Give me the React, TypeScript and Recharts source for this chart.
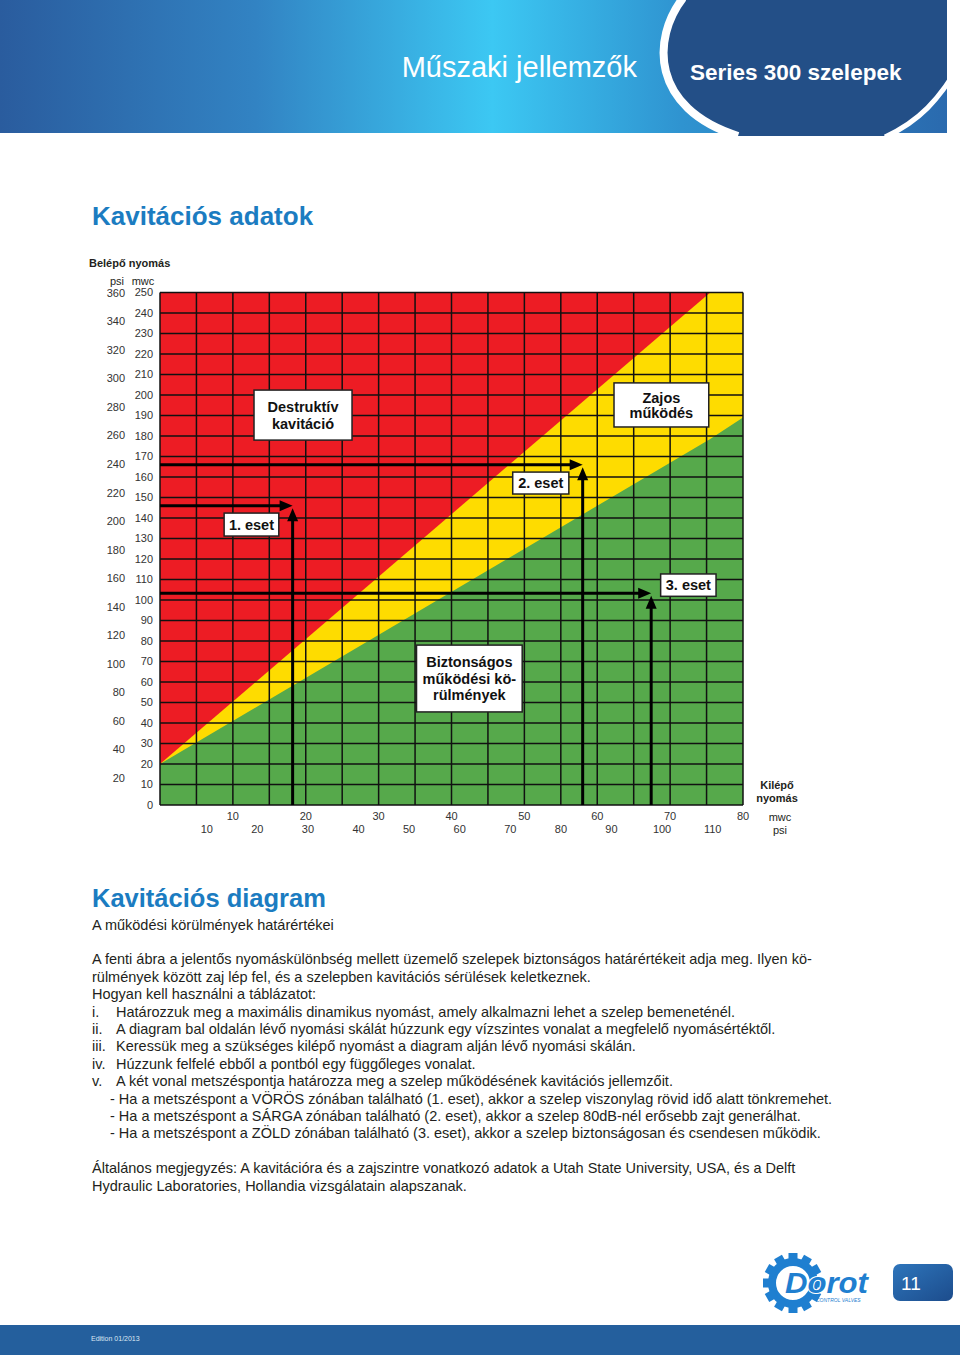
import React from "react";
import {
  ComposedChart,
  Area,
  XAxis,
  YAxis,
  CartesianGrid,
  ReferenceArea,
  ReferenceLine,
} from "recharts";

// zone boundaries (outlet mwc -> inlet mwc)
const zoneX = [0, 75.5, 80];
const redTop = [250, 250, 250];
const yellowTop = [20, 250, 250];
const greenTop = [20, 178.5, 189];

const mwcXTicks = [0, 5, 10, 15, 20, 25, 30, 35, 40, 45, 50, 55, 60, 65, 70, 75, 80];
const mwcYTicks = [
  0, 10, 20, 30, 40, 50, 60, 70, 80, 90, 100, 110, 120, 130, 140, 150, 160, 170, 180,
  190, 200, 210, 220, 230, 240, 250,
];
const psiXTicks = [10, 20, 30, 40, 50, 60, 70, 80, 90, 100, 110];
const psiYTicks = [20, 40, 60, 80, 100, 120, 140, 160, 180, 200, 220, 240, 260, 280, 300, 320, 340, 360];

// example cases: outlet / inlet pressure in mwc
const caseOutlet = [18.2, 58.0, 67.4];
const caseInlet = [146, 166, 103.3];

const zoneRows = zoneX.map((x, i) => ({
  x,
  red: redTop[i],
  yellow: yellowTop[i],
  green: greenTop[i],
}));

const noteBoxes = [
  { lines: ["Destruktív", "kavitáció"], x1: 12.9, x2: 26.35, y1: 178, y2: 202.4, gap: 17 },
  { lines: ["Zajos", "működés"], x1: 62.3, x2: 75.3, y1: 184.4, y2: 205.9, gap: 15 },
  { lines: ["Biztonságos", "működési kö-", "rülmények"], x1: 35.2, x2: 49.7, y1: 45.4, y2: 78, gap: 16.5 },
  { lines: ["1. eset"], x1: 8.8, x2: 16.3, y1: 131.2, y2: 142.4, gap: 0 },
  { lines: ["2. eset"], x1: 48.4, x2: 56.1, y1: 151.7, y2: 162.4, gap: 0 },
  { lines: ["3. eset"], x1: 68.7, x2: 76.3, y1: 101.8, y2: 112.7, gap: 0 },
];

const FONT = '"Liberation Sans", Arial, Helvetica, sans-serif';
const BLUE = "#1b7cc1";
const TXT = "#231f20";

const hArrow = (p: any) => {
  const { x1, y1, x2, y2 } = p;
  const head = 13;
  return (
    <g>
      <line x1={x1} y1={y1} x2={x2 - head + 1} y2={y2} stroke="#000" strokeWidth={3} />
      <polygon points={`${x2},${y2} ${x2 - head},${y2 - 5.5} ${x2 - head},${y2 + 5.5}`} fill="#000" />
    </g>
  );
};

const vArrow = (p: any) => {
  const { x1, y1, x2, y2 } = p;
  const head = 13;
  const tip = y2 + 2.5;
  return (
    <g>
      <line x1={x1} y1={y1} x2={x2} y2={tip + head - 1} stroke="#000" strokeWidth={3} />
      <polygon points={`${x2},${tip} ${x2 - 5.5},${tip + head} ${x2 + 5.5},${tip + head}`} fill="#000" />
    </g>
  );
};

const boxShape = (lines: string[], gap: number) => (p: any) => {
  const { x, y, width, height } = p;
  const cx = x + width / 2;
  const cy = y + height / 2;
  const start = cy - ((lines.length - 1) * gap) / 2;
  return (
    <g>
      <rect x={x} y={y} width={width} height={height} fill="#fff" stroke="#222" strokeWidth={1.5} />
      {lines.map((l, i) => (
        <text
          key={i}
          x={cx}
          y={start + i * gap}
          dy="0.36em"
          textAnchor="middle"
          fontSize={14.5}
          fontWeight="bold"
          fill="#111"
          fontFamily={FONT}
        >
          {l}
        </text>
      ))}
    </g>
  );
};

function Header() {
  return (
    <svg width={960} height={140} style={{ position: "absolute", left: 0, top: 0 }}>
      <defs>
        <linearGradient id="hdrGrad" x1="0" y1="0" x2="1" y2="0">
          <stop offset="0" stopColor="#2a5c9e" />
          <stop offset="0.27" stopColor="#3283c3" />
          <stop offset="0.52" stopColor="#3cc8f3" />
          <stop offset="0.72" stopColor="#2f93d0" />
          <stop offset="1" stopColor="#2a6aae" />
        </linearGradient>
      </defs>
      <rect x={0} y={0} width={947} height={133} fill="url(#hdrGrad)" />
      <path d="M 683 0 C 652 38, 650 108, 738 136 L 885 136 C 918 122, 940 100, 947 82 L 947 0 Z" fill="#234f87" />
      <path d="M 683 -2 C 652 38, 650 108, 738 136" stroke="#fff" strokeWidth={8} fill="none" />
      <path d="M 885 137 C 918 122, 940 100, 962 60" stroke="#fff" strokeWidth={5} fill="none" />
      <rect x={947} y={0} width={13} height={140} fill="#fff" />
      <text x={637} y={77} textAnchor="end" fill="#fff" fontSize={29} fontFamily={FONT}>
        Műszaki jellemzők
      </text>
      <text x={690} y={80} fill="#fff" fontSize={22.5} fontWeight="bold" fontFamily={FONT}>
        Series 300 szelepek
      </text>
    </svg>
  );
}

function Logo() {
  const teeth = Array.from({ length: 12 }, (_, i) => i * 30);
  return (
    <svg width={130} height={70} style={{ position: "absolute", left: 762, top: 1250 }}>
      <g transform="translate(31,33)">
        <circle r={21} fill="none" stroke="#1f7fd0" strokeWidth={8} />
        {teeth.map((a) => (
          <rect key={a} x={-4.5} y={-30} width={9} height={10} fill="#1f7fd0" transform={`rotate(${a})`} />
        ))}
      </g>
      <text
        x={23}
        y={43}
        fontSize={29}
        fontWeight="bold"
        fontStyle="italic"
        fill="#1f7fd0"
        stroke="#fff"
        strokeWidth={2}
        paintOrder="stroke"
        textLength={83}
        lengthAdjust="spacingAndGlyphs"
        fontFamily={FONT}
      >
        Dorot
      </text>
      <text x={54} y={52} fontSize={5} fill="#1f7fd0" fontFamily={FONT} fontStyle="italic">
        CONTROL VALVES
      </text>
    </svg>
  );
}

const abs = (left: number, top: number, extra: any = {}) => ({
  position: "absolute" as const,
  left,
  top,
  whiteSpace: "nowrap" as const,
  ...extra,
});

export default function App() {
  const body = [
    "A fenti ábra a jelentős nyomáskülönbség mellett üzemelő szelepek biztonságos határértékeit adja meg. Ilyen kö-",
    "rülmények között zaj lép fel, és a szelepben kavitációs sérülések keletkeznek.",
    "Hogyan kell használni a táblázatot:",
  ];
  const steps = [
    ["i.", "Határozzuk meg a maximális dinamikus nyomást, amely alkalmazni lehet a szelep bemeneténél."],
    ["ii.", "A diagram bal oldalán lévő nyomási skálát húzzunk egy vízszintes vonalat a megfelelő nyomásértéktől."],
    ["iii.", "Keressük meg a szükséges kilépő nyomást a diagram alján lévő nyomási skálán."],
    ["iv.", "Húzzunk felfelé ebből a pontból egy függőleges vonalat."],
    ["v.", "A két vonal metszéspontja határozza meg a szelep működésének kavitációs jellemzőit."],
  ];
  const dashes = [
    "- Ha a metszéspont a VÖRÖS zónában található (1. eset), akkor a szelep viszonylag rövid idő alatt tönkremehet.",
    "- Ha a metszéspont a SÁRGA zónában található (2. eset), akkor a szelep 80dB-nél erősebb zajt generálhat.",
    "- Ha a metszéspont a ZÖLD zónában található (3. eset), akkor a szelep biztonságosan és csendesen működik.",
  ];
  const LH = 17.4;

  return (
    <div
      style={{
        position: "absolute",
        left: 0,
        top: 0,
        width: 960,
        height: 1357,
        background: "#fff",
        overflow: "hidden",
        fontFamily: FONT,
        color: TXT,
      }}
    >
      <Header />

      <div style={abs(92, 201, { fontSize: 26, lineHeight: "30px", fontWeight: "bold", color: BLUE })}>
        Kavitációs adatok
      </div>

      <div style={abs(89, 256.5, { fontSize: 11, lineHeight: "13px", fontWeight: "bold" })}>Belépő nyomás</div>
      <div style={abs(102, 274.5, { width: 30, textAlign: "center", fontSize: 11, lineHeight: "13px" })}>psi</div>
      <div style={abs(128, 274.5, { width: 30, textAlign: "center", fontSize: 11, lineHeight: "13px" })}>mwc</div>

      <div
        style={abs(737, 778.5, { width: 80, textAlign: "center", fontSize: 11, lineHeight: "13px", fontWeight: "bold" })}
      >
        Kilépő
        <br />
        nyomás
      </div>
      <div style={abs(760, 810.5, { width: 40, textAlign: "center", fontSize: 11, lineHeight: "13px" })}>mwc</div>
      <div style={abs(760, 823.5, { width: 40, textAlign: "center", fontSize: 11, lineHeight: "13px" })}>psi</div>

      <div style={{ position: "absolute", left: 0, top: 270 }}>
        <ComposedChart width={960} height={570} data={zoneRows} margin={{ top: 22.5, right: 217, bottom: 5, left: 100 }}>
          <XAxis
            xAxisId="mwc"
            dataKey="x"
            type="number"
            domain={[0, 80]}
            ticks={mwcXTicks}
            interval={0}
            height={13}
            tickSize={0}
            tickMargin={7}
            axisLine={false}
            tickLine={false}
            tick={{ fontSize: 11, fill: "#333" }}
            tickFormatter={(v: number) => (v !== 0 && v % 10 === 0 ? String(v) : "")}
          />
          <XAxis
            xAxisId="psi"
            dataKey="x"
            type="number"
            domain={[0.75, 116]}
            ticks={psiXTicks}
            interval={0}
            height={17}
            tickSize={0}
            tickMargin={7}
            axisLine={false}
            tickLine={false}
            tick={{ fontSize: 11, fill: "#333" }}
            allowDataOverflow
          />
          <YAxis
            yAxisId="mwc"
            type="number"
            domain={[0, 250]}
            ticks={mwcYTicks}
            interval={0}
            width={30}
            tickSize={0}
            tickMargin={7}
            axisLine={false}
            tickLine={false}
            tick={{ fontSize: 11, fill: "#333" }}
          />
          <YAxis
            yAxisId="psi"
            type="number"
            domain={[1, 360.3]}
            ticks={psiYTicks}
            interval={0}
            width={30}
            tickSize={0}
            tickMargin={5}
            axisLine={false}
            tickLine={false}
            tick={{ fontSize: 11, fill: "#333" }}
            allowDataOverflow
          />
          <Area
            xAxisId="mwc"
            yAxisId="mwc"
            dataKey="red"
            type="linear"
            stroke="none"
            fill="#ed1c24"
            fillOpacity={1}
            isAnimationActive={false}
            activeDot={false}
          />
          <Area
            xAxisId="mwc"
            yAxisId="mwc"
            dataKey="yellow"
            type="linear"
            stroke="none"
            fill="#fedc00"
            fillOpacity={1}
            isAnimationActive={false}
            activeDot={false}
          />
          <Area
            xAxisId="mwc"
            yAxisId="mwc"
            dataKey="green"
            type="linear"
            stroke="none"
            fill="#56a94b"
            fillOpacity={1}
            isAnimationActive={false}
            activeDot={false}
          />
          <CartesianGrid
            xAxisId="mwc"
            yAxisId="mwc"
            stroke="#111"
            strokeWidth={1.5}
            strokeDasharray=""
            {...({ zIndex: 150 } as any)}
          />
          {caseOutlet.map((ox, i) => (
            <ReferenceLine
              key={`h${i}`}
              xAxisId="mwc"
              yAxisId="mwc"
              segment={[
                { x: 0, y: caseInlet[i] },
                { x: ox, y: caseInlet[i] },
              ]}
              shape={hArrow}
              {...({ zIndex: 250 } as any)}
            />
          ))}
          {caseOutlet.map((ox, i) => (
            <ReferenceLine
              key={`v${i}`}
              xAxisId="mwc"
              yAxisId="mwc"
              segment={[
                { x: ox, y: 0 },
                { x: ox, y: caseInlet[i] },
              ]}
              shape={vArrow}
              {...({ zIndex: 250 } as any)}
            />
          ))}
          {noteBoxes.map((b, i) => (
            <ReferenceArea
              key={`b${i}`}
              xAxisId="mwc"
              yAxisId="mwc"
              x1={b.x1}
              x2={b.x2}
              y1={b.y1}
              y2={b.y2}
              shape={boxShape(b.lines, b.gap)}
              {...({ zIndex: 300 } as any)}
            />
          ))}
        </ComposedChart>
      </div>

      <div style={abs(92, 883, { fontSize: 25.5, lineHeight: "30px", fontWeight: "bold", color: BLUE })}>
        Kavitációs diagram
      </div>
      <div style={abs(92, 916.5, { fontSize: 14.5, lineHeight: "17px" })}>A működési körülmények határértékei</div>

      <div style={abs(92, 951.3, { fontSize: 14.5, lineHeight: `${LH}px` })}>
        {body.map((l, i) => (
          <div key={i}>{l}</div>
        ))}
        {steps.map(([m, t], i) => (
          <div key={i} style={{ display: "flex" }}>
            <span style={{ width: 24, display: "inline-block" }}>{m}</span>
            <span>{t}</span>
          </div>
        ))}
        {dashes.map((l, i) => (
          <div key={i} style={{ paddingLeft: 18 }}>
            {l}
          </div>
        ))}
        <div style={{ height: LH }} />
        <div>Általános megjegyzés: A kavitációra és a zajszintre vonatkozó adatok a Utah State University, USA, és a Delft</div>
        <div>Hydraulic Laboratories, Hollandia vizsgálatain alapszanak.</div>
      </div>

      <Logo />
      <svg width={60} height={38} style={{ position: "absolute", left: 893, top: 1264 }}>
        <defs>
          <linearGradient id="pgGrad" x1="0" y1="0" x2="1" y2="1">
            <stop offset="0" stopColor="#2e75bb" />
            <stop offset="1" stopColor="#1c4c8c" />
          </linearGradient>
        </defs>
        <rect x={0} y={0} width={60} height={37} rx={7} fill="url(#pgGrad)" />
        <text x={8} y={26} fontSize={19} fill="#fff" fontFamily={FONT}>
          11
        </text>
      </svg>

      <div style={{ position: "absolute", left: 0, top: 1325, width: 960, height: 30, background: "#245f9d" }} />
      <div style={abs(91, 1335, { fontSize: 7, lineHeight: "8px", color: "#dce6f2" })}>Edition 01/2013</div>
    </div>
  );
}
